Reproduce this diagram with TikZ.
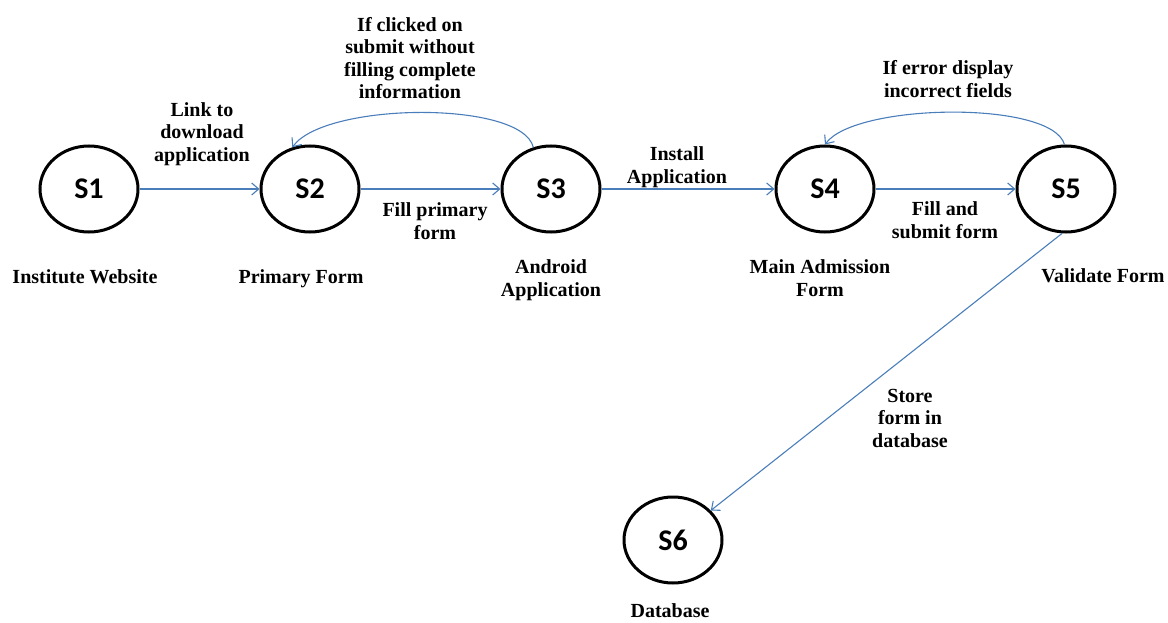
\documentclass[tikz,border=0pt]{standalone}
\usepackage{fontspec}
\setmainfont{Liberation Serif}
\newfontfamily\statefont{Carlito}
\usetikzlibrary{shapes.geometric,arrows.meta}
\definecolor{edgeblue}{RGB}{74,126,187}
\begin{document}
\begin{tikzpicture}[x=1pt,y=-1pt,
  state/.style={ellipse,draw=black,line width=3pt,minimum width=98pt,minimum height=86pt,inner sep=0pt,font=\statefont\bfseries\fontsize{30}{36}\selectfont},
  lbl/.style={align=center,inner sep=0pt,font=\bfseries\fontsize{20}{22.5}\selectfont},
  edge/.style={draw=edgeblue,line width=1.1pt,-{Straight Barb[length=7pt,width=12pt]}}]
\useasboundingbox (0,0) rectangle (1168,623);
\node[state] (S1) at (89,189) {S1};
\node[state] (S2) at (310,189) {S2};
\node[state] (S3) at (551,189) {S3};
\node[state] (S4) at (825,189) {S4};
\node[state] (S5) at (1066,189) {S5};
\node[state] (S6) at (673,540) {S6};

\draw[edge] (S1) -- (S2);
\draw[edge] (S2) -- (S3);
\draw[edge] (S3) -- (S4);
\draw[edge] (S4) -- (S5);
\draw[edge] (S3.113) .. controls (522,100) and (325,102) .. (S2.113);
\draw[edge] (S5.92) .. controls (1052,100) and (855,103) .. (S4.90);
\draw[edge] (S5.265) -- (S6.38);

\node[lbl] (l12) at (202,134) {Link to\\download\\application};
\node[lbl] (l32) at (410,58) {If clicked on\\submit without\\filling complete\\information};
\node[lbl] (l23) at (435,221) {Fill primary\\form};
\node[lbl] (l34) at (677,167) {Install\\Application};
\node[lbl] (l45) at (945,220) {Fill and\\submit form};
\node[lbl] (l54) at (948,79) {If error display\\incorrect fields};
\node[lbl] (l56) at (910,418) {Store\\form in\\database};

\node[lbl,anchor=base] (n1) at (85,283) {Institute Website};
\node[lbl,anchor=base] (n2) at (301,283) {Primary Form};
\node[lbl] (n3) at (551,280) {Android\\Application};
\node[lbl] (n4) at (820,278) {Main Admission\\Form};
\node[lbl,anchor=base] (n5) at (1103,282) {Validate Form};
\node[lbl,anchor=base] (n6) at (670,617) {Database};
\end{tikzpicture}
\end{document}
